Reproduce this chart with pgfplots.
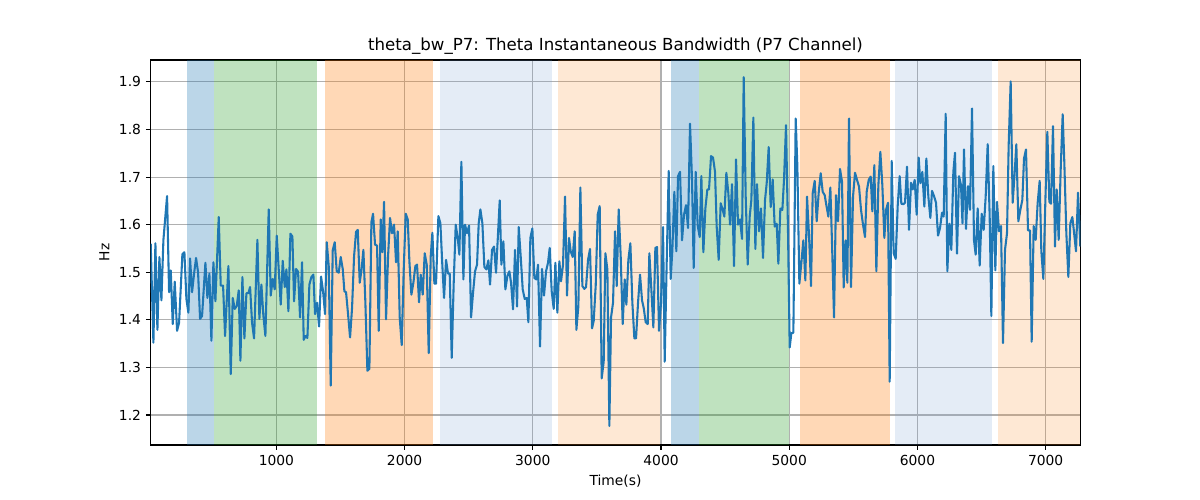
\documentclass[border=0pt]{standalone}
\usepackage{fontspec}
\setmainfont{DejaVu Sans}
\usepackage{pgfplots}
\usepackage{pgfplotstable}
\pgfplotsset{compat=1.18}
\definecolor{tabblue}{RGB}{31,119,180}
\definecolor{tabgreen}{RGB}{44,160,44}
\definecolor{taborange}{RGB}{255,127,14}
\definecolor{lblue}{RGB}{120,160,210}
\definecolor{lorange}{RGB}{250,140,40}
\definecolor{gridgray}{RGB}{176,176,176}

\pgfplotstableread{
x y
20 1.56
41.1 1.352
56.7 1.561
72.3 1.379
87.9 1.532
103.5 1.441
119.1 1.568
147.7 1.660
163.3 1.458
176.3 1.504
191.9 1.391
207.5 1.480
225.7 1.377
241.3 1.394
267.2 1.538
282.8 1.542
298.4 1.444
314.0 1.415
327.0 1.529
342.6 1.458
358.2 1.497
373.8 1.530
389.4 1.500
405.0 1.402
420.6 1.408
446.6 1.520
462.2 1.446
477.8 1.497
493.4 1.356
509.0 1.521
524.6 1.439
550.6 1.616
566.2 1.472
584.4 1.472
600.0 1.366
626.0 1.513
644.2 1.286
659.8 1.446
675.4 1.423
691.0 1.429
706.6 1.462
719.6 1.314
735.2 1.490
750.8 1.361
766.4 1.456
782.0 1.456
795.0 1.469
810.5 1.394
826.1 1.361
852.1 1.568
867.7 1.402
883.3 1.474
898.9 1.408
914.5 1.366
940.5 1.632
956.1 1.451
971.7 1.486
987.3 1.464
1002.9 1.577
1018.5 1.506
1034.1 1.432
1049.7 1.524
1065.3 1.469
1078.3 1.506
1093.9 1.418
1109.5 1.581
1125.1 1.575
1138.1 1.439
1153.7 1.507
1169.3 1.501
1184.8 1.405
1200.4 1.521
1213.4 1.358
1226.4 1.366
1242.0 1.362
1257.6 1.474
1273.2 1.490
1288.8 1.495
1301.8 1.412
1317.4 1.436
1333.0 1.386
1348.6 1.491
1364.2 1.460
1379.8 1.412
1392.8 1.563
1408.4 1.513
1424.0 1.262
1439.6 1.546
1455.2 1.563
1470.8 1.502
1486.4 1.499
1502.0 1.532
1517.6 1.507
1530.6 1.460
1543.6 1.458
1559.2 1.412
1574.8 1.363
1590.4 1.425
1606.0 1.533
1621.6 1.585
1634.6 1.589
1650.2 1.478
1665.8 1.509
1678.8 1.547
1694.3 1.436
1709.9 1.293
1725.5 1.297
1741.1 1.605
1754.1 1.623
1769.7 1.558
1785.3 1.556
1798.3 1.377
1813.9 1.611
1826.9 1.542
1839.9 1.648
1855.5 1.401
1871.1 1.533
1886.6 1.614
1902.3 1.582
1917.9 1.600
1933.5 1.521
1946.5 1.586
1962.1 1.405
1977.7 1.347
1993.3 1.506
2008.9 1.623
2024.5 1.611
2037.5 1.523
2053.1 1.453
2068.7 1.478
2084.2 1.513
2097.2 1.516
2112.8 1.437
2125.8 1.495
2141.4 1.453
2157.0 1.540
2172.6 1.516
2188.2 1.330
2203.8 1.533
2216.8 1.583
2232.4 1.476
2245.4 1.476
2263.6 1.618
2279.2 1.603
2294.8 1.513
2307.8 1.446
2323.4 1.526
2339.0 1.497
2352.0 1.497
2367.6 1.320
2383.2 1.478
2398.8 1.600
2414.4 1.572
2427.4 1.537
2443.0 1.732
2458.6 1.485
2471.6 1.600
2487.2 1.582
2502.8 1.598
2518.4 1.405
2534.0 1.457
2549.6 1.502
2565.1 1.516
2578.2 1.603
2591.1 1.632
2606.7 1.603
2622.3 1.511
2637.9 1.506
2653.5 1.525
2666.5 1.474
2682.1 1.547
2697.7 1.554
2713.3 1.499
2741.9 1.651
2754.9 1.516
2770.5 1.565
2786.1 1.464
2801.7 1.492
2817.3 1.502
2830.3 1.478
2845.9 1.422
2861.5 1.547
2877.1 1.428
2890.1 1.595
2905.7 1.533
2921.3 1.464
2936.9 1.444
2952.5 1.446
2965.5 1.395
2981.0 1.572
2996.6 1.592
3012.2 1.488
3027.8 1.485
3040.8 1.516
3056.4 1.344
3072.0 1.507
3087.6 1.451
3103.2 1.502
3118.8 1.520
3131.8 1.551
3147.4 1.460
3163.0 1.423
3176.0 1.520
3191.6 1.415
3207.2 1.523
3220.2 1.481
3235.8 1.516
3251.4 1.659
3267.0 1.451
3282.6 1.572
3295.6 1.544
3311.2 1.532
3326.8 1.586
3339.8 1.379
3355.4 1.429
3371.0 1.678
3386.6 1.471
3402.2 1.465
3415.2 1.469
3430.8 1.526
3446.4 1.549
3462.0 1.382
3475.0 1.398
3490.6 1.472
3506.2 1.621
3521.7 1.639
3537.3 1.277
3552.9 1.312
3565.9 1.540
3581.5 1.506
3597.1 1.177
3610.1 1.405
3625.7 1.436
3641.3 1.586
3654.3 1.471
3669.9 1.632
3685.5 1.533
3701.1 1.391
3716.7 1.485
3729.7 1.432
3745.3 1.526
3760.9 1.561
3776.5 1.436
3792.1 1.361
3805.1 1.361
3820.7 1.436
3836.3 1.495
3851.9 1.441
3864.9 1.425
3880.5 1.395
3896.1 1.391
3909.0 1.540
3924.6 1.464
3940.2 1.384
3955.8 1.551
3968.8 1.553
3984.4 1.377
4000.0 1.436
4015.6 1.595
4028.6 1.312
4044.2 1.520
4059.8 1.713
4075.4 1.486
4088.4 1.547
4104.0 1.669
4119.6 1.544
4132.6 1.702
4148.2 1.711
4163.8 1.567
4179.4 1.621
4195.0 1.641
4210.6 1.593
4226.2 1.812
4241.8 1.694
4254.8 1.509
4270.4 1.711
4286.0 1.598
4301.6 1.574
4314.6 1.702
4330.2 1.542
4345.8 1.634
4361.4 1.674
4374.4 1.674
4390.0 1.744
4405.5 1.741
4421.1 1.711
4434.1 1.596
4449.7 1.526
4465.3 1.645
4480.9 1.631
4493.9 1.617
4509.5 1.709
4525.1 1.666
4538.2 1.600
4553.8 1.685
4569.4 1.513
4585.0 1.737
4600.6 1.600
4616.2 1.611
4631.8 1.570
4644.8 1.910
4660.4 1.659
4676.0 1.516
4691.6 1.617
4704.6 1.652
4720.2 1.825
4735.8 1.549
4748.8 1.685
4764.4 1.586
4779.9 1.634
4795.5 1.530
4811.1 1.652
4824.1 1.687
4839.7 1.763
4855.3 1.637
4870.9 1.695
4886.5 1.596
4902.1 1.602
4915.1 1.518
4930.7 1.634
4946.3 1.631
4959.3 1.695
4974.9 1.809
4990.5 1.584
5003.5 1.342
5016.5 1.372
5032.1 1.373
5050.3 1.823
5063.3 1.722
5078.9 1.476
5094.5 1.520
5110.1 1.567
5125.7 1.483
5138.7 1.659
5154.3 1.577
5169.9 1.471
5182.9 1.666
5198.5 1.692
5214.1 1.607
5229.7 1.667
5245.3 1.708
5260.9 1.669
5276.5 1.662
5289.4 1.641
5305.0 1.617
5320.6 1.678
5333.6 1.561
5349.2 1.405
5364.8 1.662
5380.4 1.607
5396.0 1.717
5411.6 1.690
5424.6 1.468
5440.2 1.567
5453.2 1.478
5466.2 1.823
5481.8 1.469
5497.4 1.659
5513.0 1.709
5528.6 1.694
5544.2 1.680
5559.8 1.631
5575.4 1.600
5591.0 1.574
5604.0 1.669
5619.6 1.694
5635.2 1.701
5648.2 1.628
5663.8 1.725
5679.4 1.502
5695.0 1.683
5710.5 1.753
5726.1 1.683
5741.7 1.572
5754.7 1.631
5770.3 1.646
5783.3 1.270
5798.9 1.734
5814.5 1.540
5830.1 1.528
5845.7 1.639
5861.3 1.702
5874.3 1.644
5889.9 1.643
5902.9 1.646
5918.5 1.722
5934.1 1.589
5949.7 1.688
5962.7 1.674
5978.3 1.694
5993.9 1.621
6009.5 1.741
6022.5 1.687
6038.1 1.711
6053.7 1.638
6069.3 1.739
6084.9 1.659
6100.5 1.614
6113.5 1.671
6129.1 1.660
6144.7 1.646
6160.3 1.577
6175.9 1.593
6191.4 1.625
6204.4 1.617
6220.0 1.833
6233.0 1.502
6248.6 1.602
6264.2 1.547
6279.8 1.711
6292.8 1.751
6308.4 1.539
6324.0 1.702
6339.6 1.683
6351.0 1.603
6363.0 1.758
6378.6 1.591
6394.2 1.681
6409.7 1.631
6425.4 1.844
6441.0 1.567
6454.0 1.537
6469.6 1.634
6485.2 1.514
6500.8 1.623
6516.4 1.589
6532.0 1.659
6547.6 1.769
6563.2 1.617
6576.2 1.408
6591.8 1.723
6607.4 1.504
6620.3 1.648
6635.9 1.586
6651.5 1.597
6667.1 1.351
6682.7 1.547
6698.3 1.582
6711.3 1.767
6726.9 1.901
6742.5 1.646
6758.1 1.709
6771.1 1.769
6786.7 1.607
6802.3 1.631
6817.9 1.652
6830.9 1.739
6846.5 1.758
6862.1 1.588
6877.7 1.588
6890.7 1.354
6906.3 1.597
6921.9 1.568
6937.5 1.646
6953.1 1.692
6966.1 1.544
6981.7 1.486
6997.3 1.648
7012.9 1.795
7028.5 1.648
7041.5 1.644
7057.1 1.807
7072.7 1.554
7085.7 1.674
7101.3 1.568
7116.9 1.715
7132.5 1.832
7145.5 1.729
7161.1 1.582
7176.7 1.490
7192.3 1.603
7207.9 1.616
7220.9 1.584
7236.5 1.544
7252.1 1.667
7270.0 1.554
}\datatable

\begin{document}
\begin{tikzpicture}
\path[use as bounding box] (0,0) rectangle (12in,5in);
\begin{axis}[
  at={(1.507in,0.55in)}, anchor=south west,
  scale only axis,
  width=9.296in, height=3.85in,
  xmin=20, xmax=7270, ymin=1.137, ymax=1.946,
  xtick={1000,2000,3000,4000,5000,6000,7000},
  ytick={1.2,1.3,1.4,1.5,1.6,1.7,1.8,1.9},
  xticklabel style={/pgf/number format/1000 sep={}},
  yticklabel style={/pgf/number format/.cd, fixed, fixed zerofill, precision=1},
  /pgf/number format/assume math mode=true,
  ticklabel style={font=\fontsize{10}{12}\selectfont},
  tick pos=left,
  tick align=outside,
  major tick length=3.5pt,
  every tick/.style={black, line width=0.8pt},
  axis line style={black, line width=0.8pt},
  grid=major,
  major grid style={gridgray, line width=0.8pt},
  title={theta\_bw\_P7: Theta Instantaneous Bandwidth (P7 Channel)},
  title style={font=\fontsize{12}{14}\selectfont, at={(0.5,1)}, anchor=south, yshift=-5.5pt},
  xlabel={Time(s)},
  ylabel={Hz},
  label style={font=\fontsize{10}{12}\selectfont},
]
\fill[tabblue, fill opacity=0.3, line width=0.6pt] (axis cs:306,1.137) rectangle (axis cs:512,1.946);
\fill[tabgreen, fill opacity=0.3, line width=0.6pt] (axis cs:512,1.137) rectangle (axis cs:1315,1.946);
\fill[taborange, fill opacity=0.3, line width=0.6pt] (axis cs:1380,1.137) rectangle (axis cs:2220,1.946);
\fill[lblue, fill opacity=0.2, line width=0.6pt] (axis cs:2277,1.137) rectangle (axis cs:3148,1.946);
\fill[lorange, fill opacity=0.2, line width=0.6pt] (axis cs:3197,1.137) rectangle (axis cs:3995,1.946);
\fill[tabblue, fill opacity=0.3, line width=0.6pt] (axis cs:4078,1.137) rectangle (axis cs:4294,1.946);
\fill[tabgreen, fill opacity=0.3, line width=0.6pt] (axis cs:4294,1.137) rectangle (axis cs:5000,1.946);
\fill[taborange, fill opacity=0.3, line width=0.6pt] (axis cs:5084,1.137) rectangle (axis cs:5783,1.946);
\fill[lblue, fill opacity=0.2, line width=0.6pt] (axis cs:5826,1.137) rectangle (axis cs:6579,1.946);
\fill[lorange, fill opacity=0.2, line width=0.6pt] (axis cs:6630,1.137) rectangle (axis cs:7270,1.946);
\addplot[tabblue, line width=1.5pt, line join=round, mark=none] table[x=x, y=y] {\datatable};
\end{axis}
\end{tikzpicture}
\end{document}
